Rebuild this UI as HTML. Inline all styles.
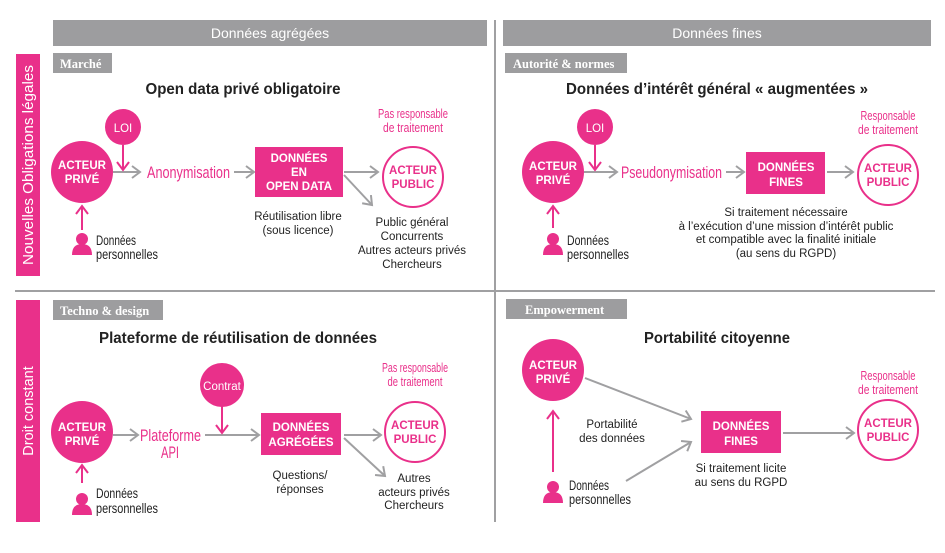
<!DOCTYPE html>
<html><head><meta charset="utf-8"><style>
html,body{margin:0;padding:0;background:#fff}
svg{display:block}
text{font-family:"Liberation Sans",sans-serif}
.t{font-size:15px;fill:#222;text-anchor:middle}
.w{font-size:11.5px;font-weight:bold;fill:#fff;text-anchor:middle}
.h{font-size:14px;fill:#fff;text-anchor:middle}
.s{font-size:11.5px;fill:#222;text-anchor:middle}
.pk{font-size:13px;fill:#e9308a;text-anchor:middle}
.pb{font-size:17px;fill:#e9308a}
.dp{font-size:14px;fill:#222}
.tag{font-size:12.5px;fill:#fff;font-family:"Liberation Serif",serif;font-weight:bold}
.g{stroke:#a0a0a2;stroke-width:2;fill:none}
.p{stroke:#e9308a;stroke-width:2;fill:none}
</style></head><body>
<svg width="945" height="553" viewBox="0 0 945 553" xmlns="http://www.w3.org/2000/svg">
<defs>
<marker id="ag" markerWidth="12" markerHeight="14" refX="10" refY="7" orient="auto" markerUnits="userSpaceOnUse"><path d="M2,1 L10,7 L2,13" stroke="#a0a0a2" stroke-width="2" fill="none"/></marker>
<marker id="ap" markerWidth="12" markerHeight="14" refX="10" refY="7" orient="auto" markerUnits="userSpaceOnUse"><path d="M2,1 L10,7 L2,13" stroke="#e9308a" stroke-width="2" fill="none"/></marker>
<g id="person"><circle cx="0" cy="-6" r="6" fill="#e9308a"/><path d="M-10,10 Q-10,-1 0,-1 Q10,-1 10,10 Z" fill="#e9308a"/></g>
</defs>
<line x1="495" y1="20" x2="495" y2="522" stroke="#a0a0a2" stroke-width="2"/>
<line x1="15" y1="291" x2="935" y2="291" stroke="#a0a0a2" stroke-width="2"/>
<rect x="53" y="20" width="434" height="26" fill="#9d9d9f"/>
<text x="270" y="38" class="h">Données agrégées</text>
<rect x="503" y="20" width="428" height="26" fill="#9d9d9f"/>
<text x="717" y="38" class="h">Données fines</text>
<rect x="16" y="54" width="24" height="222" fill="#e9308a"/>
<text transform="translate(33,165) rotate(-90)" class="h" style="font-size:14.5px" textLength="200" lengthAdjust="spacingAndGlyphs">Nouvelles Obligations légales</text>
<rect x="16" y="300" width="24" height="222" fill="#e9308a"/>
<text transform="translate(33,411) rotate(-90)" class="h" style="font-size:14.5px">Droit constant</text>

<!-- TL -->
<rect x="53" y="53" width="59" height="20" fill="#9d9d9f"/><text x="60" y="68" class="tag">Marché</text>
<text x="243" y="94" class="t" style="font-weight:bold;font-size:15.5px" textLength="195" lengthAdjust="spacingAndGlyphs">Open data privé obligatoire</text>
<text x="413" y="118" class="pk" textLength="70" lengthAdjust="spacingAndGlyphs">Pas responsable</text><text x="413" y="132" class="pk" textLength="60" lengthAdjust="spacingAndGlyphs">de traitement</text>
<line x1="113" y1="172" x2="140" y2="172" class="g" marker-end="url(#ag)"/>
<line x1="123" y1="145" x2="123" y2="170" class="p" marker-end="url(#ap)"/>
<circle cx="123" cy="127" r="18" fill="#e9308a"/><text x="123" y="132" class="w" style="font-weight:normal">LOI</text>
<circle cx="82" cy="172" r="31" fill="#e9308a"/><text x="82" y="169" class="w">ACTEUR</text><text x="82" y="183" class="w">PRIVÉ</text>
<text x="147" y="178" class="pb" textLength="83" lengthAdjust="spacingAndGlyphs">Anonymisation</text>
<line x1="234" y1="172" x2="254" y2="172" class="g" marker-end="url(#ag)"/>
<rect x="255" y="147" width="88" height="50" fill="#e9308a"/>
<text x="299" y="162" class="w">DONNÉES</text><text x="299" y="176" class="w">EN</text><text x="299" y="190" class="w">OPEN DATA</text>
<line x1="344" y1="172" x2="378" y2="172" class="g" marker-end="url(#ag)"/>
<line x1="344" y1="175" x2="372" y2="205" class="g" marker-end="url(#ag)"/>
<circle cx="413" cy="177" r="30" fill="#fff" stroke="#e9308a" stroke-width="2"/>
<text x="413" y="174" class="w" style="fill:#e9308a">ACTEUR</text><text x="413" y="188" class="w" style="fill:#e9308a">PUBLIC</text>
<text x="298" y="220" class="s">Réutilisation libre</text><text x="298" y="234" class="s">(sous licence)</text>
<text x="412" y="226" class="s">Public général</text><text x="412" y="240" class="s">Concurrents</text><text x="412" y="254" class="s">Autres acteurs privés</text><text x="412" y="268" class="s">Chercheurs</text>
<line x1="82" y1="230" x2="82" y2="206" class="p" marker-end="url(#ap)"/>
<use href="#person" x="82" y="245"/>
<text x="96" y="245" class="dp" textLength="40" lengthAdjust="spacingAndGlyphs">Données</text><text x="96" y="259" class="dp" textLength="62" lengthAdjust="spacingAndGlyphs">personnelles</text>

<!-- TR -->
<rect x="505" y="53" width="122" height="20" fill="#9d9d9f"/><text x="513" y="68" class="tag">Autorité &amp; normes</text>
<text x="717" y="94" class="t" style="font-weight:bold;font-size:15.5px" textLength="302" lengthAdjust="spacingAndGlyphs">Données d’intérêt général « augmentées »</text>
<text x="888" y="120" class="pk" textLength="55" lengthAdjust="spacingAndGlyphs">Responsable</text><text x="888" y="134" class="pk" textLength="60" lengthAdjust="spacingAndGlyphs">de traitement</text>
<line x1="584" y1="172" x2="617" y2="172" class="g" marker-end="url(#ag)"/>
<line x1="595" y1="145" x2="595" y2="170" class="p" marker-end="url(#ap)"/>
<circle cx="595" cy="127" r="18" fill="#e9308a"/><text x="595" y="132" class="w" style="font-weight:normal">LOI</text>
<circle cx="553" cy="172" r="31" fill="#e9308a"/><text x="553" y="170" class="w">ACTEUR</text><text x="553" y="184" class="w">PRIVÉ</text>
<text x="621" y="178" class="pb" textLength="101" lengthAdjust="spacingAndGlyphs">Pseudonymisation</text>
<line x1="726" y1="172" x2="744" y2="172" class="g" marker-end="url(#ag)"/>
<rect x="746" y="152" width="79" height="42" fill="#e9308a"/>
<text x="786" y="171" class="w">DONNÉES</text><text x="786" y="186" class="w">FINES</text>
<line x1="827" y1="172" x2="853" y2="172" class="g" marker-end="url(#ag)"/>
<circle cx="888" cy="175" r="30" fill="#fff" stroke="#e9308a" stroke-width="2"/>
<text x="888" y="172" class="w" style="fill:#e9308a">ACTEUR</text><text x="888" y="186" class="w" style="fill:#e9308a">PUBLIC</text>
<text x="786" y="216" class="s">Si traitement nécessaire</text><text x="786" y="230" class="s">à l’exécution d’une mission d’intérêt public</text><text x="786" y="243" class="s">et compatible avec la finalité initiale</text><text x="786" y="257" class="s">(au sens du RGPD)</text>
<line x1="553" y1="228" x2="553" y2="206" class="p" marker-end="url(#ap)"/>
<use href="#person" x="553" y="245"/>
<text x="567" y="245" class="dp" textLength="42" lengthAdjust="spacingAndGlyphs">Données</text><text x="567" y="259" class="dp" textLength="62" lengthAdjust="spacingAndGlyphs">personnelles</text>

<!-- BL -->
<rect x="53" y="300" width="110" height="20" fill="#9d9d9f"/><text x="60" y="315" class="tag">Techno &amp; design</text>
<text x="238" y="343" class="t" style="font-weight:bold;font-size:15.5px" textLength="278" lengthAdjust="spacingAndGlyphs">Plateforme de réutilisation de données</text>
<text x="415" y="372" class="pk" textLength="66" lengthAdjust="spacingAndGlyphs">Pas responsable</text><text x="415" y="386" class="pk" textLength="55" lengthAdjust="spacingAndGlyphs">de traitement</text>
<line x1="113" y1="435" x2="138" y2="435" class="g" marker-end="url(#ag)"/>
<line x1="205" y1="435" x2="259" y2="435" class="g" marker-end="url(#ag)"/>
<line x1="222" y1="405" x2="222" y2="433" class="p" marker-end="url(#ap)"/>
<circle cx="222" cy="385" r="22" fill="#e9308a"/><text x="222" y="390" class="w" style="font-weight:normal">Contrat</text>
<circle cx="82" cy="432" r="31" fill="#e9308a"/><text x="82" y="431" class="w">ACTEUR</text><text x="82" y="445" class="w">PRIVÉ</text>
<text x="140" y="441" class="pb" textLength="61" lengthAdjust="spacingAndGlyphs">Plateforme</text><text x="170" y="458" class="pb" text-anchor="middle" textLength="18" lengthAdjust="spacingAndGlyphs">API</text>
<rect x="261" y="413" width="80" height="42" fill="#e9308a"/>
<text x="301" y="431" class="w">DONNÉES</text><text x="301" y="446" class="w">AGRÉGÉES</text>
<line x1="344" y1="435" x2="381" y2="435" class="g" marker-end="url(#ag)"/>
<line x1="344" y1="438" x2="385" y2="476" class="g" marker-end="url(#ag)"/>
<circle cx="415" cy="432" r="30" fill="#fff" stroke="#e9308a" stroke-width="2"/>
<text x="415" y="429" class="w" style="fill:#e9308a">ACTEUR</text><text x="415" y="443" class="w" style="fill:#e9308a">PUBLIC</text>
<text x="300" y="479" class="s">Questions/</text><text x="300" y="493" class="s">réponses</text>
<text x="414" y="482" class="s">Autres</text><text x="414" y="496" class="s">acteurs privés</text><text x="414" y="509" class="s">Chercheurs</text>
<line x1="82" y1="483" x2="82" y2="465" class="p" marker-end="url(#ap)"/>
<use href="#person" x="82" y="505"/>
<text x="96" y="498" class="dp" textLength="42" lengthAdjust="spacingAndGlyphs">Données</text><text x="96" y="513" class="dp" textLength="62" lengthAdjust="spacingAndGlyphs">personnelles</text>

<!-- BR -->
<rect x="506" y="299" width="121" height="20" fill="#9d9d9f"/><text x="525" y="314" class="tag">Empowerment</text>
<text x="717" y="343" class="t" style="font-weight:bold;font-size:15.5px" textLength="146" lengthAdjust="spacingAndGlyphs">Portabilité citoyenne</text>
<text x="888" y="380" class="pk" textLength="55" lengthAdjust="spacingAndGlyphs">Responsable</text><text x="888" y="394" class="pk" textLength="60" lengthAdjust="spacingAndGlyphs">de traitement</text>
<circle cx="553" cy="370" r="31" fill="#e9308a"/><text x="553" y="369" class="w">ACTEUR</text><text x="553" y="383" class="w">PRIVÉ</text>
<line x1="553" y1="472" x2="553" y2="411" class="p" marker-end="url(#ap)"/>
<line x1="585" y1="378" x2="691" y2="419" class="g" marker-end="url(#ag)"/>
<line x1="626" y1="481" x2="691" y2="442" class="g" marker-end="url(#ag)"/>
<text x="612" y="428" class="s">Portabilité</text><text x="612" y="442" class="s">des données</text>
<rect x="701" y="411" width="80" height="42" fill="#e9308a"/>
<text x="741" y="430" class="w">DONNÉES</text><text x="741" y="445" class="w">FINES</text>
<line x1="783" y1="433" x2="854" y2="433" class="g" marker-end="url(#ag)"/>
<circle cx="888" cy="430" r="30" fill="#fff" stroke="#e9308a" stroke-width="2"/>
<text x="888" y="427" class="w" style="fill:#e9308a">ACTEUR</text><text x="888" y="441" class="w" style="fill:#e9308a">PUBLIC</text>
<text x="741" y="472" class="s">Si traitement licite</text><text x="741" y="486" class="s">au sens du RGPD</text>
<use href="#person" x="553" y="493"/>
<text x="569" y="490" class="dp" textLength="40" lengthAdjust="spacingAndGlyphs">Données</text><text x="569" y="504" class="dp" textLength="62" lengthAdjust="spacingAndGlyphs">personnelles</text>
</svg>
</body></html>
